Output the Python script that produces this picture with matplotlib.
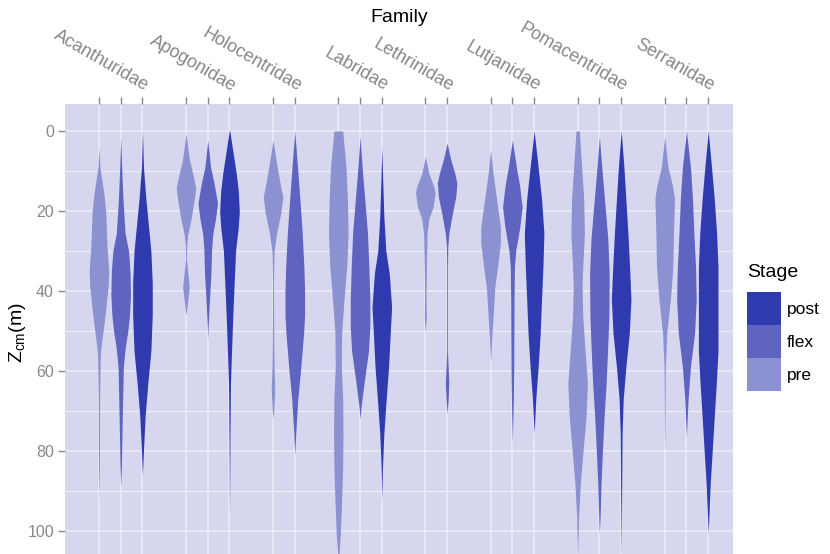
import matplotlib
matplotlib.use("Agg")
import matplotlib.pyplot as plt
from matplotlib.patches import Patch
from matplotlib.transforms import blended_transform_factory
import numpy as np

plt.rcParams['font.family'] = ['Liberation Sans', 'DejaVu Sans']

families = ["Acanthuridae", "Apogonidae", "Holocentridae", "Labridae",
            "Lethrinidae", "Lutjanidae", "Pomacentridae", "Serranidae"]
stages = ["pre", "flex", "post"]
stage_colors = {"post": "#2F3AAE", "flex": "#5E64C0", "pre": "#8C91D1"}

# Violin profiles: depth (m) and relative half-width (1 = widest)
acan_pre_d = [4, 9, 15.6, 20, 29, 35, 39, 44, 49, 52, 55.6, 67, 84, 92]
acan_pre_w = [0, 0.1, 0.5, 0.69, 0.83, 1, 0.93, 0.72, 0.48, 0.31, 0.14, 0.07, 0.05, 0]
acan_flex_d = [1.4, 9, 17, 25.6, 30, 35, 41, 46, 50, 54, 59, 67, 75.6, 84, 89]
acan_flex_w = [0, 0.1, 0.23, 0.45, 0.8, 0.95, 1, 0.9, 0.73, 0.47, 0.27, 0.2, 0.13, 0.07, 0]
acan_post_d = [0, 9, 17, 25.6, 30, 38, 46, 55, 63, 71, 80, 86]
acan_post_w = [0, 0.1, 0.35, 0.69, 0.86, 1, 1, 0.86, 0.55, 0.28, 0.1, 0]

apog_pre_d = [0.6, 7, 11.4, 14.3, 17, 22, 26, 29, 32, 35.6, 39, 42, 46]
apog_pre_w = [0, 0.34, 0.76, 1, 0.86, 0.52, 0.17, 0.07, 0.04, 0.2, 0.34, 0.2, 0]
apog_flex_d = [2.3, 9, 13, 18, 22, 26, 30, 36, 42, 49, 52]
apog_flex_w = [0, 0.29, 0.64, 1, 0.79, 0.5, 0.39, 0.32, 0.18, 0.04, 0]
apog_post_d = [0, 5, 10.6, 15, 20, 24, 30, 38, 46, 55, 63, 75.6, 96]
apog_post_w = [0.03, 0.34, 0.69, 0.9, 1, 0.9, 0.62, 0.48, 0.34, 0.21, 0.1, 0.05, 0]

holo_pre_d = [2.3, 9, 14, 16.4, 20.6, 25.6, 30, 38, 50.6, 59, 64.8, 70, 72]
holo_pre_w = [0, 0.43, 0.79, 1, 0.79, 0.36, 0.11, 0.05, 0.07, 0.11, 0.18, 0.07, 0]
holo_flex_d = [0, 9, 17, 25.6, 34, 40, 46, 50.6, 59, 67, 75.6, 81]
holo_flex_w = [0, 0.28, 0.52, 0.76, 0.93, 1, 1, 0.9, 0.62, 0.31, 0.1, 0]

labr_pre_d = [0, 9, 17, 25.6, 34, 42, 50.6, 59, 67, 75.6, 84, 92.3, 100.6, 106, 108]
labr_pre_w = [0.45, 0.79, 0.93, 1, 0.86, 0.59, 0.34, 0.31, 0.45, 0.48, 0.45, 0.34, 0.21, 0.07, 0]
labr_flex_d = [1.4, 9, 17, 25.6, 34, 42, 49, 55, 63, 69, 72]
labr_flex_w = [0, 0.21, 0.48, 0.76, 0.9, 1, 1, 0.86, 0.41, 0.1, 0]
labr_post_d = [4, 13, 21.4, 30, 35.6, 44, 50.6, 59, 67, 75.6, 84, 92]
labr_post_w = [0, 0.1, 0.21, 0.41, 0.76, 1, 0.86, 0.69, 0.45, 0.21, 0.07, 0]

leth_pre_d = [6.4, 10.6, 14, 15.6, 19, 22, 25.6, 34, 40.6, 46.4, 50.6]
leth_pre_w = [0, 0.36, 0.89, 1, 0.79, 0.36, 0.18, 0.11, 0.07, 0.1, 0]
leth_flex_d = [3, 7, 10.6, 13, 16.4, 20.6, 25.6, 29, 34, 55, 59, 63, 67, 70.6]
leth_flex_w = [0, 0.36, 0.79, 1, 0.89, 0.54, 0.18, 0.07, 0.04, 0.04, 0.11, 0.18, 0.11, 0]

lutj_pre_d = [4.75, 10.6, 17, 24, 28, 34, 39, 46.4, 52, 58]
lutj_pre_w = [0, 0.25, 0.61, 1, 1, 0.71, 0.43, 0.25, 0.11, 0]
lutj_flex_d = [2.3, 9, 14, 19, 24, 30, 34, 42, 59, 67, 78]
lutj_flex_w = [0, 0.41, 0.76, 1, 0.76, 0.34, 0.21, 0.17, 0.14, 0.1, 0]
lutj_post_d = [0, 9, 17, 25.6, 34, 42, 50.6, 59, 67, 75.6]
lutj_post_w = [0, 0.41, 0.76, 1, 0.9, 0.76, 0.62, 0.41, 0.17, 0]

poma_pre_d = [0, 9, 17, 25.6, 34, 39, 46.4, 55, 63, 71.4, 80, 88, 96.4, 105, 107]
poma_pre_w = [0.17, 0.41, 0.62, 0.69, 0.52, 0.45, 0.52, 0.76, 1, 0.86, 0.55, 0.28, 0.1, 0.03, 0]
poma_flex_d = [1.4, 9, 17, 27, 35.6, 46.4, 55, 63, 71.4, 80, 88, 96.4, 100.6]
poma_flex_w = [0, 0.24, 0.52, 0.86, 1, 0.97, 0.83, 0.69, 0.48, 0.31, 0.17, 0.07, 0]
poma_post_d = [0, 9, 17, 25.6, 34, 42, 50.6, 59, 67, 75.6, 84, 96.4, 107]
poma_post_w = [0, 0.28, 0.48, 0.69, 0.86, 1, 0.83, 0.48, 0.21, 0.1, 0.07, 0.03, 0]

serr_pre_d = [1.4, 9, 14, 17, 25.6, 34, 42, 50.6, 59, 75.6, 80]
serr_pre_w = [0, 0.34, 0.83, 1, 0.9, 0.83, 0.59, 0.21, 0.07, 0.03, 0]
serr_flex_d = [0, 9, 17, 25.6, 34, 42, 50.6, 59, 67, 76.4]
serr_flex_w = [0, 0.41, 0.62, 0.76, 0.93, 1, 0.83, 0.41, 0.17, 0]
serr_post_d = [0, 9, 17, 25.6, 34, 55, 63, 71.4, 80, 88, 96.4, 100.6]
serr_post_w = [0, 0.34, 0.62, 0.86, 1, 1, 0.83, 0.62, 0.41, 0.21, 0.07, 0]

violins = {
    "Acanthuridae": {"pre": (acan_pre_d, acan_pre_w), "flex": (acan_flex_d, acan_flex_w),
                     "post": (acan_post_d, acan_post_w)},
    "Apogonidae": {"pre": (apog_pre_d, apog_pre_w), "flex": (apog_flex_d, apog_flex_w),
                   "post": (apog_post_d, apog_post_w)},
    "Holocentridae": {"pre": (holo_pre_d, holo_pre_w), "flex": (holo_flex_d, holo_flex_w)},
    "Labridae": {"pre": (labr_pre_d, labr_pre_w), "flex": (labr_flex_d, labr_flex_w),
                 "post": (labr_post_d, labr_post_w)},
    "Lethrinidae": {"pre": (leth_pre_d, leth_pre_w), "flex": (leth_flex_d, leth_flex_w)},
    "Lutjanidae": {"pre": (lutj_pre_d, lutj_pre_w), "flex": (lutj_flex_d, lutj_flex_w),
                   "post": (lutj_post_d, lutj_post_w)},
    "Pomacentridae": {"pre": (poma_pre_d, poma_pre_w), "flex": (poma_flex_d, poma_flex_w),
                      "post": (poma_post_d, poma_post_w)},
    "Serranidae": {"pre": (serr_pre_d, serr_pre_w), "flex": (serr_flex_d, serr_flex_w),
                   "post": (serr_post_d, serr_post_w)},
}

yticks = [0, 20, 40, 60, 80, 100]

bg = "#D6D6EE"
grid_c = "#EBEBF6"
half_max = 0.45

fig = plt.figure(figsize=(8.3, 5.54), dpi=100)
ax = fig.add_axes([65 / 830, 0, 668 / 830, 450 / 554])
ax.set_facecolor(bg)

positions = []
pos = 0
fam_last = {}
for fam in families:
    for st in stages:
        if st in violins[fam]:
            d, w = violins[fam][st]
            d = np.asarray(d, float)
            w = np.asarray(w, float) * half_max
            ax.fill_betweenx(d, pos - w, pos + w, color=stage_colors[st], lw=0, zorder=3)
            positions.append(pos)
            fam_last[fam] = pos
            pos += 1
    pos += 1

ax.set_ylim(105.75, -6.75)
ax.set_xlim(-1.56, 29.14)
ax.set_yticks(yticks)
ax.set_yticks([10, 30, 50, 70, 90], minor=True)
ax.set_xticks(positions)
ax.xaxis.tick_top()
ax.tick_params(axis='x', which='major', labeltop=False, labelbottom=False,
               top=True, bottom=False, length=5, width=1, color="#888888")
ax.tick_params(axis='y', which='major', length=5, width=1, color="#888888",
               labelcolor="#888888", labelsize=11.5, pad=3)
ax.tick_params(axis='y', which='minor', length=0)
ax.grid(True, which='major', color=grid_c, lw=1.2, zorder=1)
ax.grid(True, which='minor', axis='y', color=grid_c, lw=1.0, zorder=1)
ax.set_axisbelow(True)
for s in ax.spines.values():
    s.set_visible(False)

trans = blended_transform_factory(ax.transData, ax.transAxes)
for fam in families:
    ax.annotate(fam, xy=(fam_last[fam], 1.0), xycoords=trans,
                xytext=(0.5, 6.5), textcoords='offset points',
                rotation=-30, rotation_mode='anchor', ha='right', va='bottom',
                color="#888888", fontsize=13, annotation_clip=False)

fig.text(399 / 830, 1 - 17 / 554, "Family", ha='center', va='center', fontsize=14, color='black')
fig.text(18 / 830, 1 - 333 / 554, r"$\mathregular{Z_{cm}(m)}$", ha='center', va='center',
         rotation=90, fontsize=14, color='black')

handles = [Patch(facecolor=stage_colors[s], edgecolor='none', label=s) for s in ["post", "flex", "pre"]]
leg = fig.legend(handles=handles, title="Stage", loc='upper left',
                 bbox_to_anchor=(747 / 830, 1 - 264 / 554), frameon=False,
                 fontsize=12.5, title_fontsize=14, handlelength=1.95, handleheight=2.55,
                 labelspacing=0, handletextpad=0.35, borderpad=0, borderaxespad=0,
                 alignment='left')
leg._legend_box.sep = 8

fig.savefig("out.png", dpi=100)
